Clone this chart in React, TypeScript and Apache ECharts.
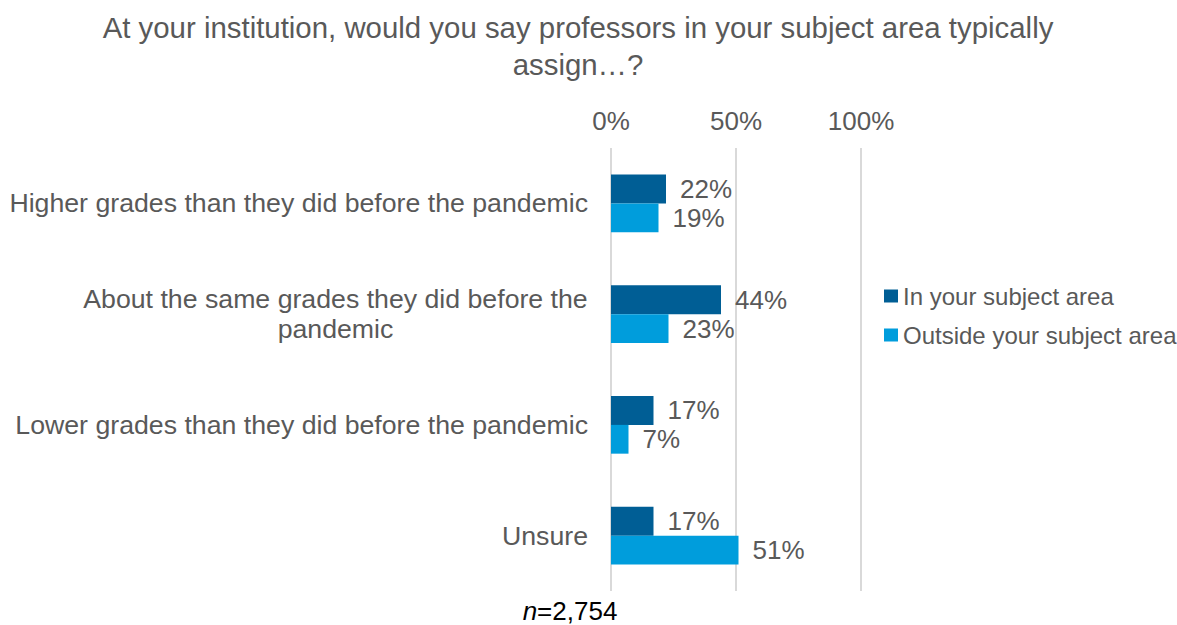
import React, { useEffect, useRef } from "react";
import * as echarts from "echarts";

const titleLines = [
  "At your institution, would you say professors in your subject area typically",
  "assign…?",
];
const categories = [
  "Higher grades than they did before the pandemic",
  "About the same grades they did before the\npandemic",
  "Lower grades than they did before the pandemic",
  "Unsure",
];
const seriesNames = ["In your subject area", "Outside your subject area"];
const inSubject = [22, 44, 17, 17];
const outsideSubject = [19, 23, 7, 51];
const seriesColors = ["#005E95", "#009DDC"];
const xMin = 0;
const xMax = 100;
const xInterval = 50;
const sampleSize = "2,754";

const FONT = "'Liberation Sans', Arial, Helvetica, sans-serif";
const GRAY = "#595959";
const LABEL_SIZE = 26;
const CAT_SIZE = 26.7;

function measure(text: string, size: number): number {
  const c = document.createElement("canvas");
  const ctx = c.getContext("2d");
  if (!ctx) return text.length * size * 0.5;
  ctx.font = `${size}px ${FONT}`;
  return ctx.measureText(text).width;
}

export default function App() {
  const ref = useRef<HTMLDivElement>(null);

  useEffect(() => {
    if (!ref.current) return;
    const chart = echarts.init(ref.current, undefined, { renderer: "svg" });

    const multiLineWidth = Math.ceil(
      Math.max(
        ...categories
          .filter((c) => c.includes("\n"))
          .flatMap((c) => c.split("\n"))
          .map((l) => measure(l, CAT_SIZE)),
        0
      )
    );

    const option: any = {
      animation: false,
      backgroundColor: "#ffffff",
      textStyle: { fontFamily: FONT },
      grid: { left: 611, right: 316, top: 148, bottom: 34, containLabel: false },
      legend: {
        data: seriesNames,
        orient: "vertical",
        left: 884,
        top: 283,
        padding: 0,
        icon: "rect",
        itemWidth: 14,
        itemHeight: 13,
        itemGap: 13,
        textStyle: { fontSize: 24, color: GRAY, fontFamily: FONT, lineHeight: 26 },
      },
      xAxis: {
        type: "value",
        position: "top",
        min: xMin,
        max: xMax,
        interval: xInterval,
        axisLine: { show: false },
        axisTick: { show: false },
        axisLabel: {
          formatter: "{value}%",
          fontSize: LABEL_SIZE,
          color: GRAY,
          fontFamily: FONT,
          margin: 14,
        },
        splitLine: { show: true, lineStyle: { color: "#d9d9d9", width: 2 } },
      },
      yAxis: {
        type: "category",
        data: categories,
        inverse: true,
        axisLine: { show: false },
        axisTick: { show: false },
        splitLine: { show: false },
        axisLabel: {
          fontSize: CAT_SIZE,
          color: GRAY,
          fontFamily: FONT,
          margin: 23,
          lineHeight: 30,
          formatter: (v: string) =>
            v.includes("\n")
              ? v
                  .split("\n")
                  .map((l) => `{c|${l}}`)
                  .join("\n")
              : v,
          rich: {
            c: {
              width: multiLineWidth,
              align: "center",
              fontSize: CAT_SIZE,
              color: GRAY,
              fontFamily: FONT,
              lineHeight: 30,
            },
          },
        },
      },
      series: [inSubject, outsideSubject].map((data, i) => ({
        name: seriesNames[i],
        type: "bar",
        data,
        itemStyle: { color: seriesColors[i] },
        barGap: "0%",
        barCategoryGap: "48%",
        label: {
          show: true,
          position: "right",
          distance: 14,
          formatter: "{c}%",
          fontSize: LABEL_SIZE,
          color: GRAY,
          fontFamily: FONT,
        },
      })),
      graphic: [
        {
          type: "text",
          x: 578,
          y: 9,
          style: {
            text: titleLines.join("\n"),
            fontSize: 29.4,
            fontFamily: FONT,
            lineHeight: 37,
            fill: GRAY,
            textAlign: "center",
            textVerticalAlign: "top",
          },
        },
        {
          type: "text",
          x: 570,
          y: 611,
          style: {
            text: `{i|n}{r|=${sampleSize}}`,
            textAlign: "center",
            textVerticalAlign: "middle",
            rich: {
              i: { fontSize: 26, fontStyle: "italic", fontFamily: FONT, fill: "#000000" },
              r: { fontSize: 26, fontFamily: FONT, fill: "#000000" },
            },
          },
        },
      ],
    };

    chart.setOption(option);
    return () => chart.dispose();
  }, []);

  return (
    <div
      ref={ref}
      style={{ position: "fixed", left: 0, top: 0, width: 1177, height: 625, background: "#fff" }}
    />
  );
}
